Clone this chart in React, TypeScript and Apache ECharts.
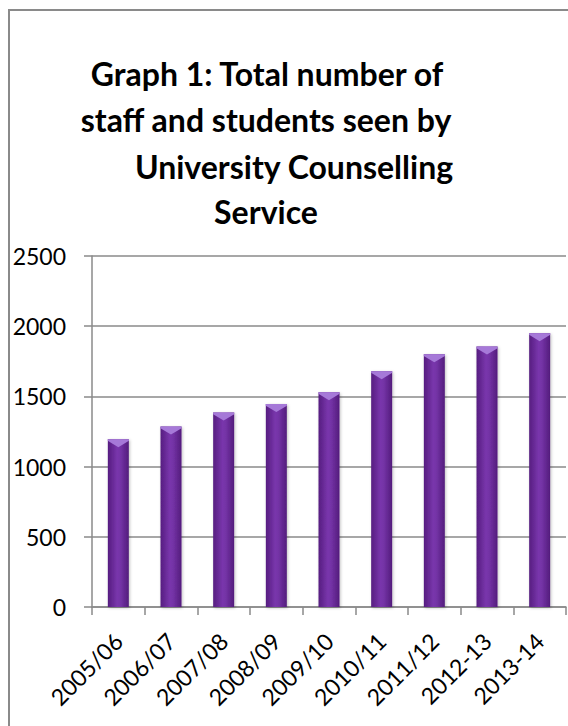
import React, { useEffect, useRef } from "react";
import * as echarts from "echarts";

const categories = ["2005/06", "2006/07", "2007/08", "2008/09", "2009/10", "2010/11", "2011/12", "2012-13", "2013-14"];
const seenCounts = [1195, 1285, 1385, 1445, 1530, 1680, 1800, 1855, 1950];
const titleLines = ["Graph 1: Total number of", "staff and students seen by", "University Counselling", "Service"];
const yMin = 0;
const yMax = 2500;
const yStep = 500;

const FONT = "Lato, 'Open Sans', sans-serif";

export default function App() {
  const ref = useRef<HTMLDivElement>(null);
  useEffect(() => {
    if (!ref.current) return;
    const chart = echarts.init(ref.current, undefined, { renderer: "svg" });
    const titleX = [267, 266, 294, 266];
    const titleY = [73, 119, 166, 211];
    chart.setOption({
      animation: false,
      backgroundColor: "#ffffff",
      graphic: [
        {
          type: "rect",
          shape: { x: 9, y: 10, width: 700, height: 900 },
          style: { fill: "none", stroke: "#8a8a8a", lineWidth: 2 },
          z: 100,
        },
        ...titleLines.map((t, i) => ({
          type: "text",
          x: titleX[i],
          y: titleY[i],
          style: {
            text: t,
            font: `bold 32px ${FONT}`,
            fill: "#000000",
            align: "center",
            verticalAlign: "middle",
          },
        })),
      ],
      grid: { left: 92, right: 2, top: 256, bottom: 119, containLabel: false },
      xAxis: {
        type: "category",
        data: categories,
        boundaryGap: true,
        axisLine: { show: true, lineStyle: { color: "#8a8a8a", width: 1.5 } },
        axisTick: { show: true, length: 8, interval: 0, lineStyle: { color: "#8a8a8a", width: 1.5 } },
        axisLabel: {
          interval: 0,
          rotate: 45,
          margin: 30,
          color: "#000000",
          fontFamily: FONT,
          fontSize: 23,
        },
      },
      yAxis: {
        type: "value",
        min: yMin,
        max: yMax,
        interval: yStep,
        axisLine: { show: true, lineStyle: { color: "#8a8a8a", width: 1.5 } },
        axisTick: { show: true, length: 8, lineStyle: { color: "#8a8a8a", width: 1.5 } },
        splitLine: { show: true, lineStyle: { color: "#8a8a8a", width: 1.5 } },
        axisLabel: {
          margin: 26,
          color: "#000000",
          fontFamily: FONT,
          fontSize: 23,
          formatter: (v: number) => String(v),
        },
      },
      series: [
        {
          type: "bar",
          data: seenCounts,
          barWidth: 21,
          itemStyle: {
            color: new echarts.graphic.LinearGradient(0, 0, 1, 0, [
              { offset: 0, color: "#561d80" },
              { offset: 0.45, color: "#7936ac" },
              { offset: 0.6, color: "#7433a6" },
              { offset: 1, color: "#531c7c" },
            ]),
            shadowColor: "rgba(0,0,0,0.25)",
            shadowBlur: 3,
            shadowOffsetX: 1,
            shadowOffsetY: 1,
          },
          z: 2,
        },
        {
          type: "pictorialBar",
          data: seenCounts,
          symbol: "path://M0,0 L20,0 L20,2 L10,10 L0,2 Z",
          symbolSize: [21, 8],
          symbolPosition: "end",
          symbolOffset: [0, 0],
          barGap: "-100%",
          itemStyle: { color: "#a679d8" },
          z: 3,
        },
      ],
    });
    return () => chart.dispose();
  }, []);
  return <div ref={ref} style={{ position: "absolute", left: 0, top: 0, width: 568, height: 726 }} />;
}
